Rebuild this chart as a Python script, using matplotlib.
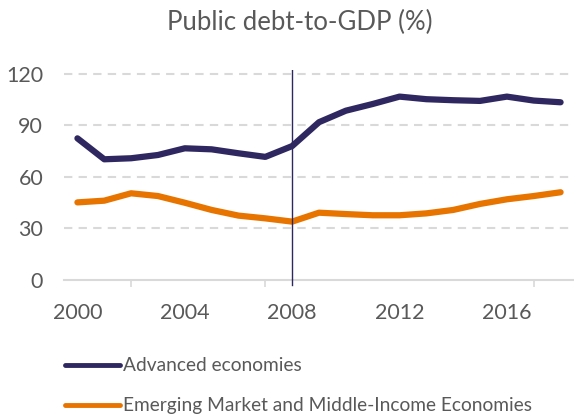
import numpy as np
import matplotlib.pyplot as plt

plt.rcParams['font.family'] = ['Lato', 'DejaVu Sans']

years = list(range(2000, 2019))
advanced = [82.5, 70.3, 70.9, 72.8, 76.7, 76.1, 73.8, 71.7, 78.0, 91.9,
            98.6, 102.5, 106.8, 105.3, 104.7, 104.3, 106.8, 104.5, 103.5]
emerging = [45.2, 46.2, 50.5, 48.9, 45.0, 40.8, 37.5, 35.9, 34.0, 39.2,
            38.4, 37.7, 37.7, 38.8, 40.8, 44.3, 47.0, 48.9, 51.1]
labels = ['Advanced economies', 'Emerging Market and Middle-Income Economies']
xlabels = [2000, 2004, 2008, 2012, 2016]
minor_ticks = [2002, 2007, 2012, 2017]
yticks = [0, 30, 60, 90, 120]

navy = '#2f2860'
orange = '#e87400'
grey = '#595959'

fig = plt.figure(figsize=(5.74, 4.16), dpi=100)
ax = fig.add_axes([64/574, 1-280/416, 510/574, 210/416])

for y in yticks[1:]:
    ax.axhline(y, color='#d9d9d9', lw=1.5, ls=(0, (4, 3)), zorder=1)

l1, = ax.plot(years, advanced, color=navy, lw=4.5, solid_capstyle='round', zorder=3)
l2, = ax.plot(years, emerging, color=orange, lw=4.5, solid_capstyle='round', zorder=3)
ax.axvline(2008, color=navy, lw=1, ymin=0, ymax=1, zorder=4)
ax.plot([2008, 2008], [0, -3], color=navy, lw=1, clip_on=False, zorder=4)

ax.set_xlim(1999.5, 2018.5)
ax.set_ylim(0, 122.3)
ax.set_yticks(yticks)
ax.set_xticks(xlabels)
ax.set_xticks(minor_ticks, minor=True)
ax.tick_params(axis='x', which='major', length=0, pad=16.5, labelsize=15.5, labelcolor=grey)
ax.tick_params(axis='x', which='minor', length=5, width=1.2, color='#d9d9d9')
ax.tick_params(axis='y', length=0, pad=15, labelsize=15.5, labelcolor=grey)

for s in ['top', 'right', 'left']:
    ax.spines[s].set_visible(False)
ax.spines['bottom'].set_color('#d9d9d9')
ax.spines['bottom'].set_linewidth(1.5)

fig.text(300/574, 1-22/416, 'Public debt-to-GDP (%)', ha='center', va='center',
         fontsize=18.5, color=grey)

h1, = ax.plot([], [], color=navy, lw=3.5, solid_capstyle='round')
h2, = ax.plot([], [], color=orange, lw=3.5, solid_capstyle='round')
fig.legend([h1, h2], labels, loc='upper left', bbox_to_anchor=(48/574, 1-340/416),
           frameon=False, fontsize=13.8, labelcolor=grey, handlelength=2.85,
           handletextpad=0.15, labelspacing=1.2)

fig.savefig('out.png', dpi=100)
